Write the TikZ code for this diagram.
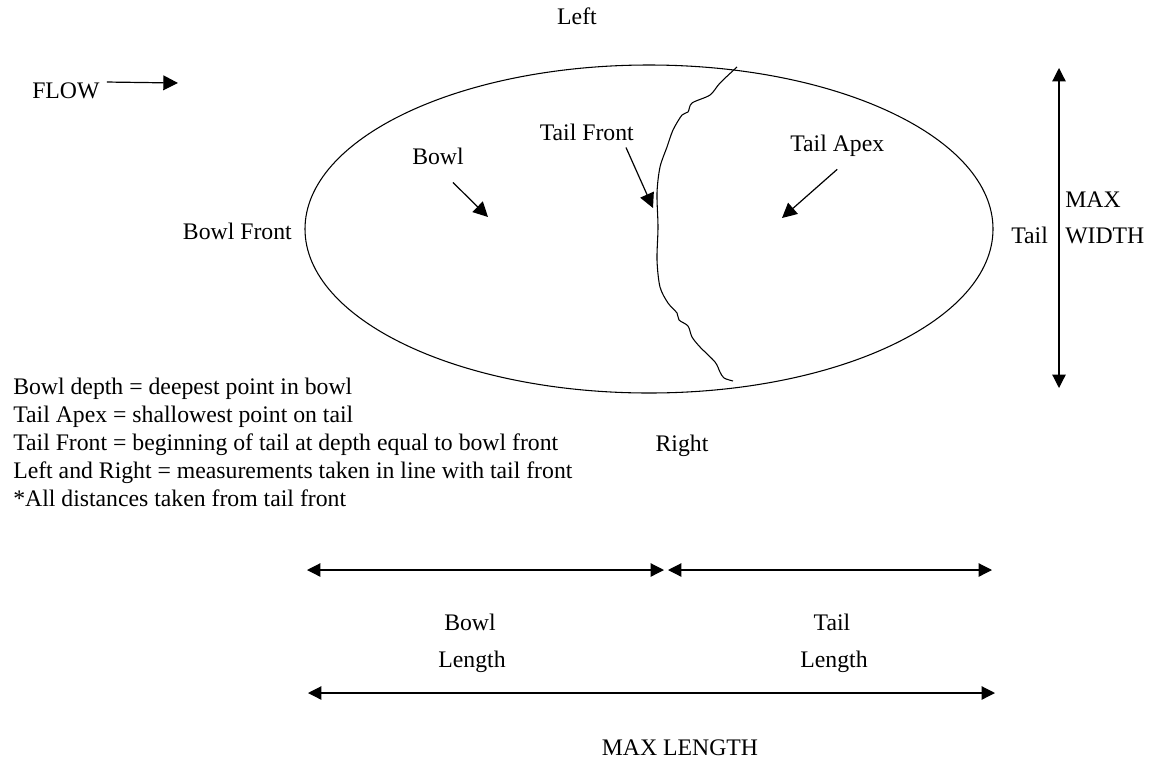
\documentclass[tikz,border=0pt]{standalone}
\usepackage{fontspec}
\setmainfont{Liberation Serif}
\usetikzlibrary{arrows.meta}
\tikzset{
  txt/.style={inner sep=0pt, font=\fontsize{17.8}{21}\selectfont},
  pointer/.style={-{Triangle[length=11pt,width=11pt]}, line width=0.9pt},
  span/.style={{Triangle[length=10pt,width=10pt]}-{Triangle[length=10pt,width=10pt]}, line width=0.9pt},
  outline/.style={line width=0.8pt},
}

\begin{document}
\begin{tikzpicture}[x=0.75pt, y=-0.75pt, every node/.style={txt}]
	\useasboundingbox (0,0) rectangle (1149,772);

	% Hole outline and tail front
	\draw[outline] (649,229) ellipse [x radius=344, y radius=164];
	\draw[outline] plot[smooth, tension=0.5] coordinates {(737,67) (720,83) (710,95) (692,103) (688,112) (682,115) (673,130) (667,147) (660,167) (657,193) (658,227) (657,260) (660,287) (668,303) (677,313) (679,320) (688,326) (692,337) (700,347) (715,362) (720,372) (724,378) (733,381)};

	% Flow direction
	\node[anchor=base west] (flow) at (32,98) {FLOW};
	\coordinate (flowtip) at (178,83);
	\draw[pointer] ([shift={(7,0)}]flow.north east) -- (flowtip);

	% Labels round the hole
	\node[anchor=base] (left) at (577,24) {Left};
	\node[anchor=base] (right) at (682,451) {Right};
	\node[anchor=base east] (bowlfront) at (292,239) {Bowl Front};
	\node[anchor=base west] (tailend) at (1011,243) {Tail};
	\node[anchor=base west] (maxw1) at (1065,207) {MAX};
	\node[anchor=base west] (maxw2) at (1065,243) {WIDTH};

	% Labels inside the hole
	\node[anchor=base] (bowl) at (438,164) {Bowl};
	\coordinate (bowlpt) at (488,217);
	\draw[pointer] ([shift={(-11,18)}]bowl.south east) -- (bowlpt);

	\node[anchor=base east] (tailfront) at (634,140) {Tail Front};
	\coordinate (frontpt) at (653,208);
	\draw[pointer] ([shift={(-8,7)}]tailfront.south east) -- (frontpt);

	\node[anchor=base west] (tailapex) at (790,151) {Tail Apex};
	\coordinate (apexpt) at (782,218);
	\draw[pointer] ([shift={(0,13)}]tailapex.south) -- (apexpt);

	% Max width
	\coordinate (wtop) at (1059,68);
	\coordinate (wbot) at (1059,388);
	\draw[span] (wtop) -- (wbot);

	% Legend
	\foreach \txt [count=\i from 0] in {Bowl depth = deepest point in bowl,
		Tail Apex = shallowest point on tail,
		Tail Front = beginning of tail at depth equal to bowl front,
		Left and Right = measurements taken in line with tail front,
		*All distances taken from tail front}{
		\node[anchor=base west] (legend\i) at (13,394+28*\i) {\txt};
	}

	% Lengths
	\coordinate (bl) at (307,570);
	\coordinate (ml) at (664,570);
	\coordinate (mr) at (668,570);
	\coordinate (br) at (992,570);
	\draw[span] (bl) -- (ml);
	\draw[span] (mr) -- (br);
	\node[anchor=base] (bowllen1) at (470,630) {Bowl};
	\node[anchor=base] (bowllen2) at (472,667) {Length};
	\node[anchor=base] (taillen1) at (832,630) {Tail};
	\node[anchor=base] (taillen2) at (834,667) {Length};

	\coordinate (ll) at (308,693);
	\coordinate (lr) at (995,693);
	\draw[span] (ll) -- (lr);
	\node[anchor=base] (maxlen) at (680,755) {MAX LENGTH};
\end{tikzpicture}
\end{document}
